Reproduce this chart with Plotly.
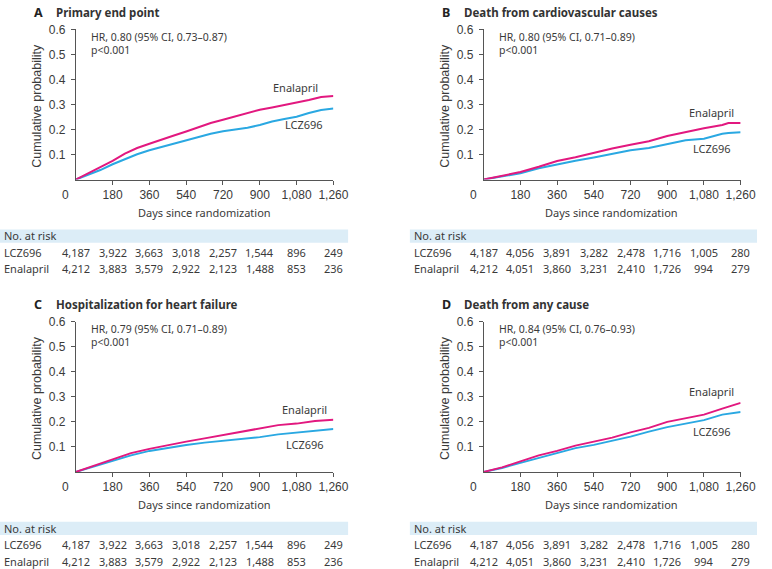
import plotly.graph_objects as go

W, H = 772, 569

# ---------------- data ----------------
panel_letters = ["A", "B", "C", "D"]
panel_titles = ["Primary end point", "Death from cardiovascular causes",
                "Hospitalization for heart failure", "Death from any cause"]
hr_texts = ["HR, 0.80 (95% CI, 0.73\u20130.87)", "HR, 0.80 (95% CI, 0.71\u20130.89)",
            "HR, 0.79 (95% CI, 0.71\u20130.89)", "HR, 0.84 (95% CI, 0.76\u20130.93)"]
p_texts = ["p<0.001", "p<0.001", "p<0.001", "p<0.001"]

days_A = [0, 60, 120, 180, 240, 300, 360, 420, 480, 540, 600, 660, 720, 780, 840, 900, 960, 1020, 1080, 1140, 1200, 1260]
enal_A = [0, 0.025, 0.052, 0.075, 0.104, 0.126, 0.143, 0.161, 0.176, 0.192, 0.209, 0.226, 0.239, 0.253, 0.266, 0.279, 0.288, 0.297, 0.308, 0.318, 0.330, 0.334]
lcz_A = [0, 0.018, 0.038, 0.061, 0.082, 0.101, 0.117, 0.130, 0.146, 0.157, 0.170, 0.183, 0.193, 0.200, 0.207, 0.218, 0.232, 0.242, 0.251, 0.266, 0.278, 0.284]

days_B = [0, 90, 180, 270, 360, 450, 540, 630, 720, 810, 900, 990, 1080, 1170, 1200, 1260]
enal_B = [0, 0.016, 0.030, 0.051, 0.074, 0.089, 0.108, 0.124, 0.139, 0.153, 0.174, 0.190, 0.205, 0.218, 0.226, 0.226]
lcz_B = [0, 0.013, 0.025, 0.045, 0.061, 0.075, 0.088, 0.101, 0.117, 0.126, 0.143, 0.157, 0.163, 0.183, 0.186, 0.189]

days_C = [0, 90, 180, 270, 360, 450, 540, 630, 720, 810, 900, 990, 1080, 1170, 1260]
enal_C = [0, 0.026, 0.049, 0.075, 0.092, 0.108, 0.121, 0.134, 0.147, 0.161, 0.176, 0.187, 0.193, 0.203, 0.208]
lcz_C = [0, 0.022, 0.045, 0.066, 0.084, 0.097, 0.108, 0.117, 0.124, 0.132, 0.139, 0.150, 0.158, 0.163, 0.171]

days_D = [0, 90, 180, 270, 360, 450, 540, 630, 720, 810, 900, 990, 1080, 1170, 1260]
enal_D = [0, 0.018, 0.042, 0.066, 0.084, 0.105, 0.121, 0.137, 0.158, 0.176, 0.200, 0.213, 0.229, 0.253, 0.276]
lcz_D = [0, 0.016, 0.036, 0.055, 0.075, 0.095, 0.108, 0.124, 0.141, 0.161, 0.179, 0.193, 0.207, 0.229, 0.239]

risk_days = [0, 180, 360, 540, 720, 900, 1080, 1260]
risk_lcz_A = ["4,187", "3,922", "3,663", "3,018", "2,257", "1,544", "896", "249"]
risk_enal_A = ["4,212", "3,883", "3,579", "2,922", "2,123", "1,488", "853", "236"]
risk_lcz_B = ["4,187", "4,056", "3,891", "3,282", "2,478", "1,716", "1,005", "280"]
risk_enal_B = ["4,212", "4,051", "3,860", "3,231", "2,410", "1,726", "994", "279"]

xtick_vals = [180, 360, 540, 720, 900, 1080, 1260]
xtick_text = ["180", "360", "540", "720", "900", "1,080", "1,260"]
ytick_vals = [0.1, 0.2, 0.3, 0.4, 0.5, 0.6]
ytick_text = ["0.1", "0.2", "0.3", "0.4", "0.5", "0.6"]

# label positions (data coords) for curve labels
lab_enal = [(1076, 0.366), (1119, 0.267), (1120, 0.249), (1119, 0.321)]
lab_lcz = [(1114, 0.220), (1119, 0.125), (1120, 0.111), (1119, 0.163)]

days = [days_A, days_B, days_C, days_D]
enal = [enal_A, enal_B, enal_C, enal_D]
lcz = [lcz_A, lcz_B, lcz_C, lcz_D]
risk_lcz = [risk_lcz_A, risk_lcz_B, risk_lcz_A, risk_lcz_B]
risk_enal = [risk_enal_A, risk_enal_B, risk_enal_A, risk_enal_B]

# ---------------- styling / layout ----------------
PINK = "#e2187f"
BLUE = "#2aa8e2"
TXT = "#3a3a3a"
AXC = "#555555"
BAND = "#dcedf7"
ARIAL = "Liberation Sans, Arial, sans-serif"
NOTO = "Noto Sans, Open Sans, sans-serif"

def px(x):
    return x / W

def py(y):
    return 1 - y / H

# pixel geometry per panel: (x0, x1, ytop, ybottom)
geo = [(77.3, 340.0, 22.7, 174.7), (493.3, 755.3, 22.7, 174.7),
       (77.3, 340.0, 318.7, 470.7), (493.3, 755.3, 318.7, 470.7)]
panel_off = [0, 416, 0, 416]
left_edge = [0, 418, 0, 418]
band_right = [355, 772, 355, 772]

fig = go.Figure()
annotations = []
shapes = []
layout = dict(width=W, height=H, margin=dict(l=0, r=0, t=0, b=0),
              paper_bgcolor="white", plot_bgcolor="white", showlegend=False)

for i in range(4):
    k = "" if i == 0 else str(i + 1)
    xa, ya = "x" + k, "y" + k
    x0, x1, yt, yb = geo[i]
    layout["xaxis" + k] = dict(domain=[px(x0), px(x1)], anchor=ya, range=[0, 1260],
                               tickvals=xtick_vals, ticktext=xtick_text,
                               ticks="outside", ticklen=4, tickcolor=AXC,
                               showline=True, linecolor=AXC, linewidth=1,
                               showgrid=False, zeroline=False,
                               tickfont=dict(family=ARIAL, size=12, color=TXT),
                               fixedrange=True)
    layout["yaxis" + k] = dict(domain=[py(yb), py(yt)], anchor=xa, range=[0, 0.6],
                               tickvals=ytick_vals, ticktext=ytick_text,
                               ticks="outside", ticklen=4, tickcolor=AXC,
                               ticklabelstandoff=3,
                               showline=True, linecolor=AXC, linewidth=1,
                               showgrid=False, zeroline=False,
                               tickfont=dict(family=ARIAL, size=12, color=TXT),
                               fixedrange=True)
    fig.add_trace(go.Scatter(x=days[i], y=lcz[i], mode="lines", xaxis=xa, yaxis=ya,
                             line=dict(color=BLUE, width=2), line_shape="linear"))
    fig.add_trace(go.Scatter(x=days[i], y=enal[i], mode="lines", xaxis=xa, yaxis=ya,
                             line=dict(color=PINK, width=2), line_shape="linear"))

    # origin "0"
    annotations.append(dict(x=0, y=0, xref=xa, yref=ya, text="0", showarrow=False,
                            xanchor="center", yanchor="top", xshift=-10, yshift=-6,
                            font=dict(family=ARIAL, size=12, color=TXT)))
    # panel title
    annotations.append(dict(x=px(panel_off[i] + 33), y=py(yt - 17), xref="paper", yref="paper",
                            text="<b>" + panel_letters[i] + "</b>", showarrow=False,
                            xanchor="left", yanchor="middle",
                            font=dict(family=NOTO, size=12.5, color="#222")))
    annotations.append(dict(x=px(panel_off[i] + 55), y=py(yt - 17), xref="paper", yref="paper",
                            text="<b>" + panel_titles[i] + "</b>", showarrow=False,
                            xanchor="left", yanchor="middle",
                            font=dict(family=NOTO, size=11.5, color="#333")))
    # y-axis title
    annotations.append(dict(x=px(panel_off[i] + 38), y=py((yt + yb) / 2 + 1), xref="paper", yref="paper",
                            text="Cumulative probability", textangle=-90, showarrow=False,
                            xanchor="center", yanchor="middle",
                            font=dict(family=ARIAL, size=12.5, color=TXT)))
    # x-axis title
    annotations.append(dict(x=628, y=py(yb + 33), xref=xa, yref="paper",
                            text="Days since randomization", showarrow=False,
                            xanchor="center", yanchor="middle",
                            font=dict(family=NOTO, size=11, color=TXT)))
    # HR and p text
    annotations.append(dict(x=65, y=py(yt + 7.5), xref=xa, yref="paper",
                            text=hr_texts[i], showarrow=False, xanchor="left", yanchor="middle",
                            font=dict(family=NOTO, size=10.5, color=TXT)))
    annotations.append(dict(x=65, y=py(yt + 20.8), xref=xa, yref="paper",
                            text=p_texts[i], showarrow=False, xanchor="left", yanchor="middle",
                            font=dict(family=NOTO, size=10.5, color=TXT)))
    # curve labels
    annotations.append(dict(x=lab_enal[i][0], y=lab_enal[i][1], xref=xa, yref=ya,
                            text="Enalapril", showarrow=False, xanchor="center", yanchor="middle",
                            font=dict(family=NOTO, size=11, color=TXT)))
    annotations.append(dict(x=lab_lcz[i][0], y=lab_lcz[i][1], xref=xa, yref=ya,
                            text="LCZ696", showarrow=False, xanchor="center", yanchor="middle",
                            font=dict(family=NOTO, size=11, color=TXT)))
    # risk table
    band_top = yb + 50.5
    shapes.append(dict(type="rect", xref="paper", yref="paper",
                       x0=px(left_edge[i]), x1=px(band_right[i]),
                       y0=py(band_top + 13.5), y1=py(band_top),
                       fillcolor=BAND, line=dict(width=0), layer="below"))
    annotations.append(dict(x=px(left_edge[i] + 2), y=py(band_top + 6.5), xref="paper", yref="paper",
                            text="No. at risk", showarrow=False, xanchor="left", yanchor="middle",
                            font=dict(family=NOTO, size=11, color=TXT)))
    row_y = [band_top + 23, band_top + 40]
    for name, vals, ry in (("LCZ696", risk_lcz[i], row_y[0]), ("Enalapril", risk_enal[i], row_y[1])):
        annotations.append(dict(x=px(left_edge[i] + 2), y=py(ry), xref="paper", yref="paper",
                                text=name, showarrow=False, xanchor="left", yanchor="middle",
                                font=dict(family=NOTO, size=11, color=TXT)))
        for d, v in zip(risk_days, vals):
            annotations.append(dict(x=d, y=py(ry), xref=xa, yref="paper",
                                    text=v, showarrow=False, xanchor="center", yanchor="middle",
                                    font=dict(family=NOTO, size=11, color=TXT)))

layout["annotations"] = annotations
layout["shapes"] = shapes
fig.update_layout(**layout)
fig.write_html("out.html")
